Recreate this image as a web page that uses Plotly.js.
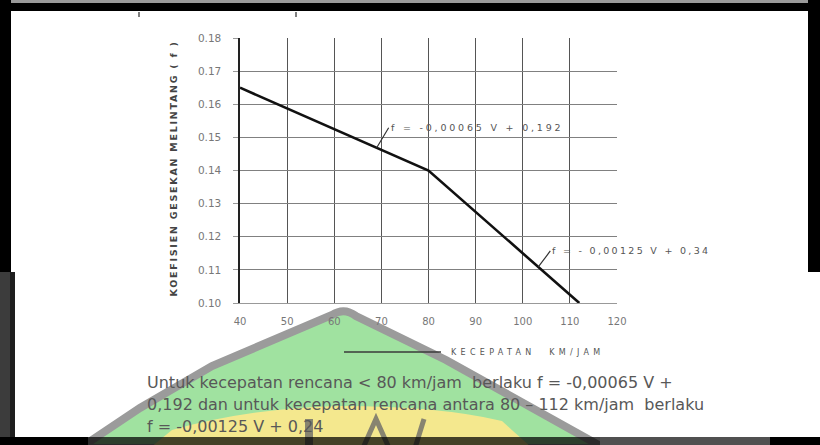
<!DOCTYPE html>
<html>
<head>
<meta charset="utf-8">
<script src="https://cdn.plot.ly/plotly-3.0.1.min.js"></script>
<style>html,body{margin:0;padding:0;background:#fff;}#chart{width:820px;height:445px;}</style>
</head>
<body>
<div id="chart"></div>
<script>
// ---- data ----
const speedKmh = [40, 80, 112];
const frictionF = [0.165, 0.140, 0.100];
const xTickVals = [40, 50, 60, 70, 80, 90, 100, 110, 120];
const yTickVals = [0.10, 0.11, 0.12, 0.13, 0.14, 0.15, 0.16, 0.17, 0.18];
const yTickText = ["0.10", "0.11", "0.12", "0.13", "0.14", "0.15", "0.16", "0.17", "0.18"];
const yTitleText = "KOEFISIEN GESEKAN MELINTANG ( f )";
const xTitleText = "KECEPATAN  KM/JAM";
const label1 = "f = -0,00065 V + 0,192";
const label2 = "f = - 0,00125 V + 0,34";
const bodyLines = [
  "Untuk kecepatan rencana &lt; 80 km/jam  berlaku f = -0,00065 V +",
  "0,192 dan untuk kecepatan rencana antara 80 \u2013 112 km/jam  berlaku",
  "f = -0,00125 V + 0,24"
];

// ---- layout geometry (pixels) ----
const W = 820, H = 445;
const L = 240, R = 617, T = 38, B = 303;
const px = x => (x - L) / (R - L);
const py = y => (B - y) / (B - T);
const ls = (t, s) => '<span style="letter-spacing:' + s + 'px">' + t + '</span>';
function interp(x) {
  for (let i = 0; i < speedKmh.length - 1; i++) {
    if (x >= speedKmh[i] && x <= speedKmh[i + 1]) {
      const t = (x - speedKmh[i]) / (speedKmh[i + 1] - speedKmh[i]);
      return frictionF[i] + t * (frictionF[i + 1] - frictionF[i]);
    }
  }
  return frictionF[frictionF.length - 1];
}
function pathPx(cmds) {
  return cmds.map(c => {
    let s = c[0];
    for (let i = 1; i < c.length; i += 2) s += ' ' + px(c[i]).toFixed(4) + ',' + py(c[i + 1]).toFixed(4);
    return s;
  }).join(' ');
}
function rectPx(x0, y0, x1, y1, color, opacity, layer) {
  return {type: 'rect', xref: 'paper', yref: 'paper', x0: px(x0), x1: px(x1), y0: py(y1), y1: py(y0),
    fillcolor: color, opacity: opacity === undefined ? 1 : opacity, line: {width: 0}, layer: layer || 'above'};
}
function linePx(x0, y0, x1, y1, color, width, layer) {
  return {type: 'line', xref: 'paper', yref: 'paper', x0: px(x0), x1: px(x1), y0: py(y0), y1: py(y1),
    line: {color: color, width: width}, layer: layer || 'above'};
}

const shapes = [
  // watermark logo
  {type: 'path', xref: 'paper', yref: 'paper', layer: 'below',
   path: pathPx([['M', 80, 448], ['L', 140, 408], ['L', 212, 366], ['L', 332, 315], ['Q', 344, 307, 356, 316], ['L', 446, 360], ['L', 604, 448], ['Z']]),
   fillcolor: 'rgb(160,226,160)', line: {color: 'rgb(155,155,155)', width: 8}},
  {type: 'path', xref: 'paper', yref: 'paper', layer: 'below',
   path: pathPx([['M', 150, 448], ['L', 172, 430], ['Q', 250, 408, 340, 406], ['Q', 440, 406, 502, 421], ['L', 532, 448], ['Z']]),
   fillcolor: 'rgb(244,232,142)', line: {width: 0}},
  rectPx(305, 419, 313, 448, 'rgb(135,132,112)', 1, 'below'),
  {type: 'path', xref: 'paper', yref: 'paper', layer: 'below',
   path: pathPx([['M', 363, 448], ['L', 376, 419], ['L', 389, 448]]),
   line: {color: 'rgb(135,132,112)', width: 5}},
  linePx(424, 419, 415, 448, 'rgb(135,132,112)', 5, 'below'),
  // x-title leader line
  linePx(344, 352, 441, 352, '#3a3a3a', 1.6),
  // small marks at top
  linePx(139, 12, 139, 17, '#555', 1.5),
  linePx(296, 12, 296, 17, '#555', 1.5),
  // frame
  rectPx(0, 0, W, 3, '#9a9a9a'),
  rectPx(0, 3, W, 11, '#000'),
  rectPx(0, 0, 11, 272, '#000'),
  rectPx(0, 272, 10, 437, '#3c3c3c'),
  rectPx(10, 272, 15, 437, '#1e1e1e'),
  rectPx(808, 0, W, 272, '#000'),
  rectPx(0, 437, 88, H, '#000'),
  rectPx(88, 437, 600, H, '#000', 0.72),
  rectPx(600, 437, 770, H, '#505050'),
  rectPx(770, 437, W, H, '#000')
];

const a1x = 69, a2x = 103.3;
const annotations = [
  {xref: 'paper', yref: 'paper', x: px(165), y: py(169), textangle: -90, showarrow: false,
   text: '<b>' + ls(yTitleText, 1.75) + '</b>', font: {family: 'DejaVu Sans', size: 9.5, color: '#444'}},
  {xref: 'paper', yref: 'paper', x: px(449), y: py(352), xanchor: 'left', yanchor: 'middle', showarrow: false,
   text: ls(xTitleText, 4.3), font: {family: 'DejaVu Sans', size: 8, color: '#555'}},
  {xref: 'x', yref: 'y', x: a1x, y: interp(a1x), ax: 12, ay: -20, xanchor: 'left', yanchor: 'middle',
   showarrow: true, arrowhead: 0, arrowwidth: 1.2, arrowcolor: '#333', standoff: 0,
   text: ls(label1, 2.8), font: {family: 'DejaVu Sans', size: 9.5, color: '#555'}},
  {xref: 'x', yref: 'y', x: a2x, y: interp(a2x), ax: 12, ay: -16, xanchor: 'left', yanchor: 'middle',
   showarrow: true, arrowhead: 0, arrowwidth: 1.2, arrowcolor: '#333', standoff: 0,
   text: ls(label2, 2.3), font: {family: 'DejaVu Sans', size: 9.5, color: '#555'}}
];
const bodyY = [382, 404, 426];
bodyLines.forEach((t, i) => annotations.push({
  xref: 'paper', yref: 'paper', x: px(145), y: py(bodyY[i]), xanchor: 'left', yanchor: 'middle',
  showarrow: false, text: t, font: {family: 'DejaVu Sans', size: 16, color: '#585858'}
}));

const trace = {
  x: speedKmh, y: frictionF, type: 'scatter', mode: 'lines',
  line: {color: '#111', width: 2.6}, hoverinfo: 'skip'
};

const layout = {
  width: W, height: H,
  margin: {l: L, r: W - R, t: T, b: H - B, pad: 0},
  paper_bgcolor: '#fff', plot_bgcolor: 'rgba(0,0,0,0)',
  showlegend: false,
  font: {family: 'DejaVu Sans'},
  xaxis: {
    range: [40, 120], tickmode: 'array', tickvals: xTickVals,
    showgrid: true, gridcolor: '#555', gridwidth: 1,
    showline: true, linecolor: '#999', linewidth: 1, zeroline: false,
    ticks: '', ticklabelstandoff: 9,
    tickfont: {family: 'DejaVu Sans', size: 10, color: '#777'}
  },
  yaxis: {
    range: [0.10, 0.18], tickmode: 'array', tickvals: yTickVals, ticktext: yTickText,
    showgrid: true, gridcolor: '#808080', gridwidth: 1,
    showline: true, linecolor: '#222', linewidth: 1.6, zeroline: false,
    ticks: 'outside', ticklen: 5, tickcolor: '#999', ticklabelstandoff: 10,
    tickfont: {family: 'DejaVu Sans', size: 10.5, color: '#777'}
  },
  shapes: shapes,
  annotations: annotations
};

Plotly.newPlot('chart', [trace], layout, {staticPlot: true, displayModeBar: false});
</script>
</body>
</html>
